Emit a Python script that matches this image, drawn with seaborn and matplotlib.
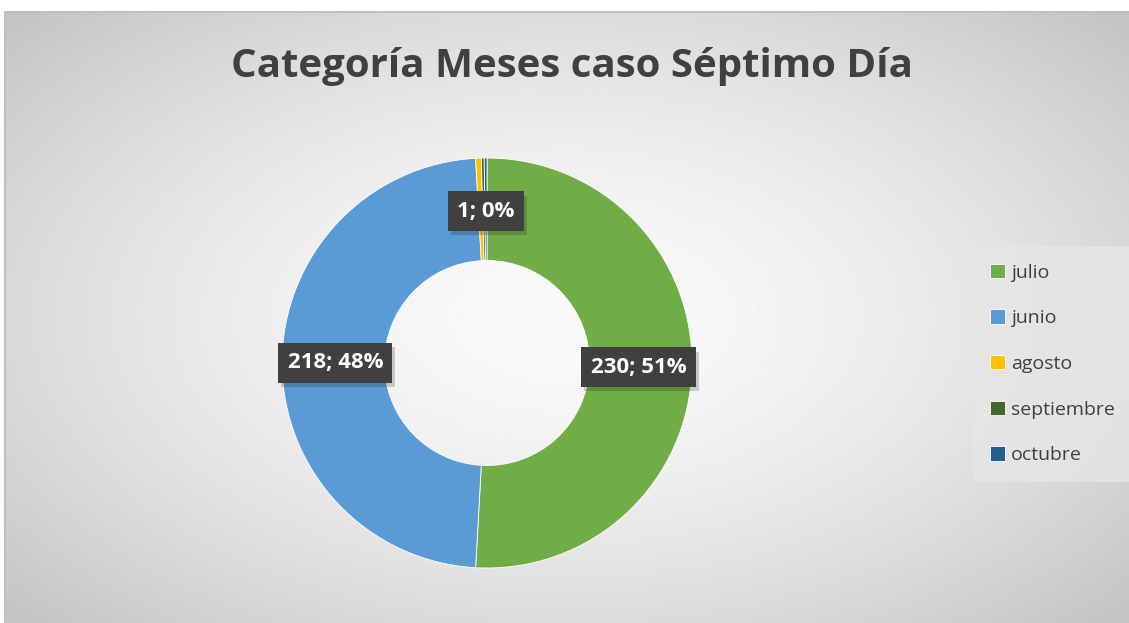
import numpy as np
import seaborn as sns
import matplotlib.pyplot as plt
import matplotlib.patheffects as pe

months = ['julio', 'junio', 'agosto', 'septiembre', 'octubre']
cases = [230, 218, 2, 1, 1]
colors = ['#70ad47', '#5b9bd5', '#ffc000', '#43682b', '#255e91']
shown_labels = ['julio', 'junio', 'octubre']

sns.set_theme(style='white')
plt.rcParams['font.family'] = ['Open Sans', 'DejaVu Sans']

fig = plt.figure(figsize=(11.29, 6.23), dpi=100)
fig.patch.set_facecolor('white')

# radial gradient background of the chart area
bg = fig.add_axes([5 / 1129, 0, 1 - 5 / 1129, 1 - 12 / 623], zorder=0)
yy, xx = np.mgrid[-1:1:300j, -1:1:600j]
r = np.sqrt((xx * 1.0) ** 2 + (yy * 0.95) ** 2)
shade = 0.98 - 0.21 * np.clip(r / 1.35, 0, 1) ** 1.6
bg.imshow(shade, cmap='gray', vmin=0, vmax=1, aspect='auto', extent=[0, 1, 0, 1])
bg.axis('off')
fig.add_artist(plt.Line2D([5 / 1129, 1], [1 - 12 / 623] * 2, color='#bfbfbf', lw=1.5))
fig.add_artist(plt.Line2D([5 / 1129] * 2, [0, 1 - 12 / 623], color='#bfbfbf', lw=1.5))

# donut: center (487, 363), outer radius 205 px
R = 205
ax = fig.add_axes([(487 - R) / 1129, (623 - 363 - R) / 623, 2 * R / 1129, 2 * R / 623], zorder=2)
ax.set_facecolor('none')
wedges, _ = ax.pie(cases, colors=colors, startangle=90, counterclock=False,
                   radius=1, wedgeprops=dict(width=0.5, edgecolor='white', linewidth=0.6))
ax.set_xlim(-1, 1)
ax.set_ylim(-1, 1)
ax.set_aspect('equal')

total = sum(cases)
for w, m, v in zip(wedges, months, cases):
    if m not in shown_labels:
        continue
    ang = np.deg2rad((w.theta1 + w.theta2) / 2)
    x, y = 0.74 * np.cos(ang), 0.74 * np.sin(ang)
    t = ax.text(x, y, f'{v}; {round(100 * v / total)}%', ha='center', va='center',
                fontsize=16, fontweight='bold', color='white', zorder=5,
                bbox=dict(boxstyle='square,pad=0.42', facecolor='#404040', edgecolor='none'))
    t.get_bbox_patch().set_path_effects([
        pe.SimplePatchShadow(offset=(2, -3), shadow_rgbFace='black', alpha=0.18),
        pe.Normal()])

fig.text(572 / 1129, 1 - 66 / 623, 'Categoría Meses caso Séptimo Día', ha='center', va='center',
         fontsize=29, fontweight='bold', color='#404040')

# legend
leg = fig.legend(wedges, months, loc='center left', bbox_to_anchor=(969 / 1129, 1 - 364 / 623),
                 frameon=True, fontsize=14, handlelength=0.75, handleheight=0.75,
                 labelspacing=1.42, handletextpad=0.3, borderpad=0.6, labelcolor='#404040')
leg.get_frame().set_facecolor('#e6e6e6')
leg.get_frame().set_edgecolor('none')
leg.get_frame().set_boxstyle('square')

fig.savefig('out.png', dpi=100)
